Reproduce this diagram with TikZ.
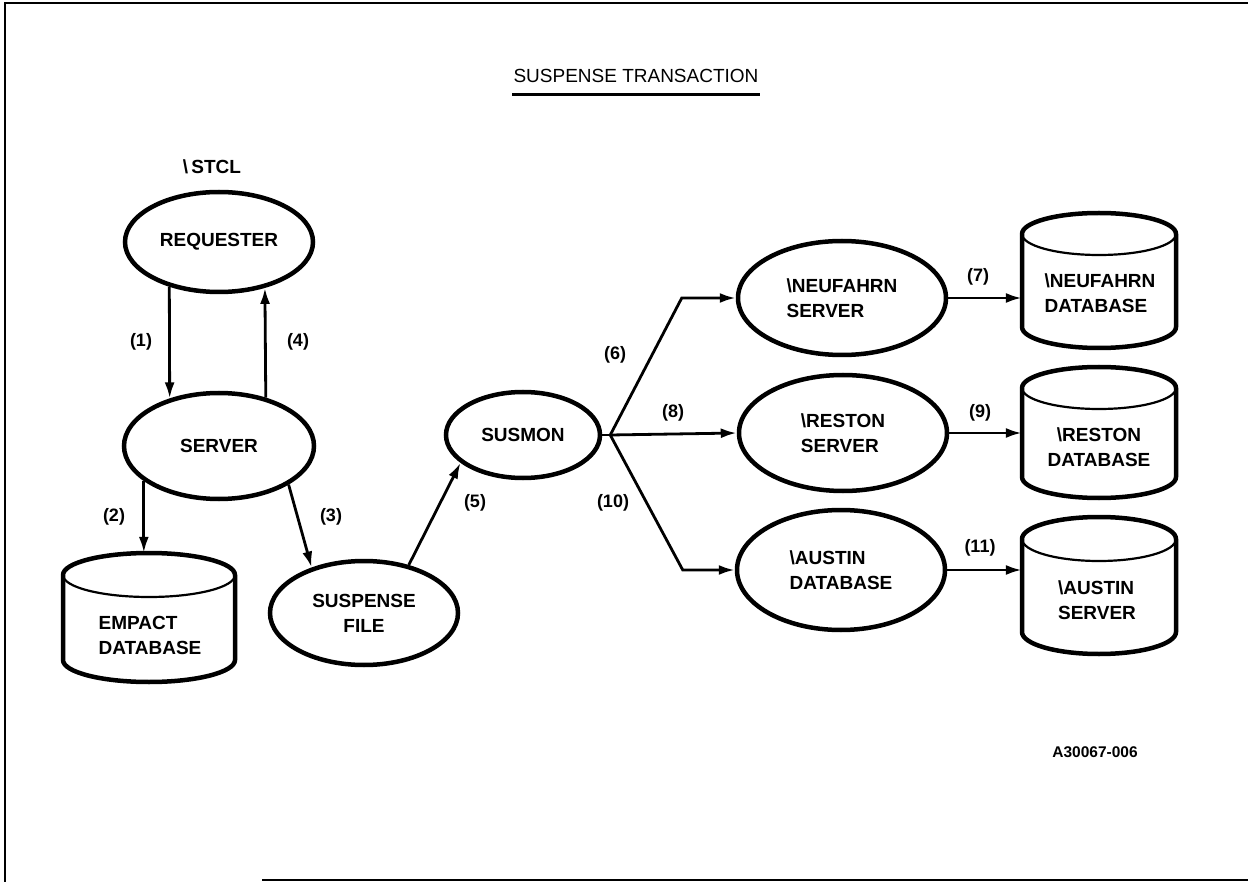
\documentclass[tikz,border=0pt]{standalone}
\usepackage{fontspec}
\setmainfont{Liberation Sans}
\usetikzlibrary{shapes.geometric,arrows.meta,calc}

\tikzset{
  txt/.style={font=\fontsize{19}{25}\selectfont\bfseries},
  proc/.style={ellipse, draw, line width=4.5pt, inner sep=0pt, txt, align=left},
  drumbox/.style={rectangle, draw=none, inner sep=0pt},
  drumtext/.style={inner sep=0pt, txt, align=left},
  arr/.style={line width=2.8pt, -{Latex[length=16pt,width=10pt]}},
  plainline/.style={line width=2.8pt},
  lab/.style={inner sep=0pt, font=\fontsize{18}{20}\selectfont\bfseries},
  frame/.style={line width=2.5pt},
}

% #1 name, #2 cx, #3 y of top ellipse centre, #4 y of bottom ellipse centre, #5 rx, #6 ry
\newcommand\drum[6]{%
  \node[drumbox, minimum width={2*#5 pt}, minimum height={(#4-#3+2*#6)*1pt}] (#1) at ({#2},{(#3+#4)/2}) {};
  \draw[line width=4.5pt, line join=round]
    ({#2-#5},{#3}) arc[start angle=180, end angle=360, x radius=#5, y radius=#6]
    -- ({#2+#5},{#4}) arc[start angle=0, end angle=180, x radius=#5, y radius=#6] -- cycle;
  \draw[line width=2.2pt]
    ({#2-#5},{#3}) arc[start angle=180, end angle=0, x radius=#5, y radius=#6];
}

\begin{document}
\begin{tikzpicture}[x=1pt, y=-1pt]
\useasboundingbox (0,0) rectangle (1248,882);
\fill[white] (0,0) rectangle (1248,882);

% frame
\draw[frame] (4,3) -- (1248,3);
\draw[frame] (5,3) -- (5,882);
\draw[frame] (262,880) -- (1248,880);

% title
\node[inner sep=0pt, font=\fontsize{19}{22}\selectfont] (title) at (636,76) {SUSPENSE TRANSACTION};
\draw[line width=3pt] (512,95) -- (760,95);

% process ellipses
\node[txt, inner sep=0pt] (stcl) at (212,167) {\textbackslash\,STCL};
\node[proc, minimum width=188pt, minimum height=100pt] (req) at (219,242) {REQUESTER};
\node[proc, minimum width=190pt, minimum height=106pt] (srv) at (219,446) {SERVER};
\node[proc, minimum width=188pt, minimum height=104pt, align=center] (sfile) at (364,613) {SUSPENSE\\FILE};
\node[proc, minimum width=154pt, minimum height=86pt] (sus) at (523,435) {SUSMON};
\node[proc, minimum width=208pt, minimum height=114pt] (neuf) at (842,298) {\textbackslash NEUFAHRN\\SERVER};
\node[proc, minimum width=208pt, minimum height=116pt] (rest) at (843,433) {\textbackslash RESTON\\SERVER};
\node[proc, minimum width=208pt, minimum height=120pt] (aus) at (841,570) {\textbackslash AUSTIN\\DATABASE};

% databases
\drum{emp}{149}{575}{660}{86}{22}
\node[drumtext] (empT) at (150,635) {EMPACT\\DATABASE};
\drum{neufdb}{1099}{234}{327}{77}{21}
\node[drumtext] (neufdbT) at (1100,293) {\textbackslash NEUFAHRN\\DATABASE};
\drum{restdb}{1099}{388}{477}{77}{21}
\node[drumtext, align=center] (restdbT) at (1099,447) {\textbackslash RESTON\\DATABASE};
\drum{ausdb}{1099}{539}{632}{77}{22}
\node[drumtext] (ausdbT) at (1097,600) {\textbackslash AUSTIN\\SERVER};

% connectors
\draw[arr] (req.222) -- (srv.136.4);
\draw[arr] (srv.46.9) -- (req.315);
\draw[arr] (srv.205.7) -- (srv.205.7 |- emp.north);
\draw[arr] (srv.331.4) -- (sfile.139.4);
\draw[arr] (sfile.47) -- (sus.204.5);

\coordinate (fork) at ($(sus.east)+(8,0)$);
\draw[plainline] (sus.east) -- (fork);
\draw[arr, line join=miter] (fork) -- ([xshift=-54pt]neuf.west) -- (neuf.west);
\draw[arr] (fork) -- (rest.west);
\draw[arr, line join=miter] (fork) -- ([xshift=-52pt]aus.west) -- (aus.west);

\draw[arr] (neuf.east) -- (neuf.east -| neufdb.west);
\draw[arr] (rest.east) -- (rest.east -| restdb.west);
\draw[arr] (aus.east) -- (aus.east -| ausdb.west);

% labels
\node[lab] (l1) at (141,342) {(1)};
\node[lab] (l4) at (298,342) {(4)};
\node[lab] (l2) at (114,517) {(2)};
\node[lab] (l3) at (331,517) {(3)};
\node[lab] (l5) at (475,503) {(5)};
\node[lab] (l6) at (615,355) {(6)};
\node[lab] (l8) at (673,413) {(8)};
\node[lab] (l10) at (613,503) {(10)};
\node[lab] (l7) at (978,277) {(7)};
\node[lab] (l9) at (980,413) {(9)};
\node[lab] (l11) at (980,548) {(11)};

\node[inner sep=0pt, font=\fontsize{15.5}{17}\selectfont\bfseries] (code) at (1095,752) {A30067-006};
\end{tikzpicture}
\end{document}
